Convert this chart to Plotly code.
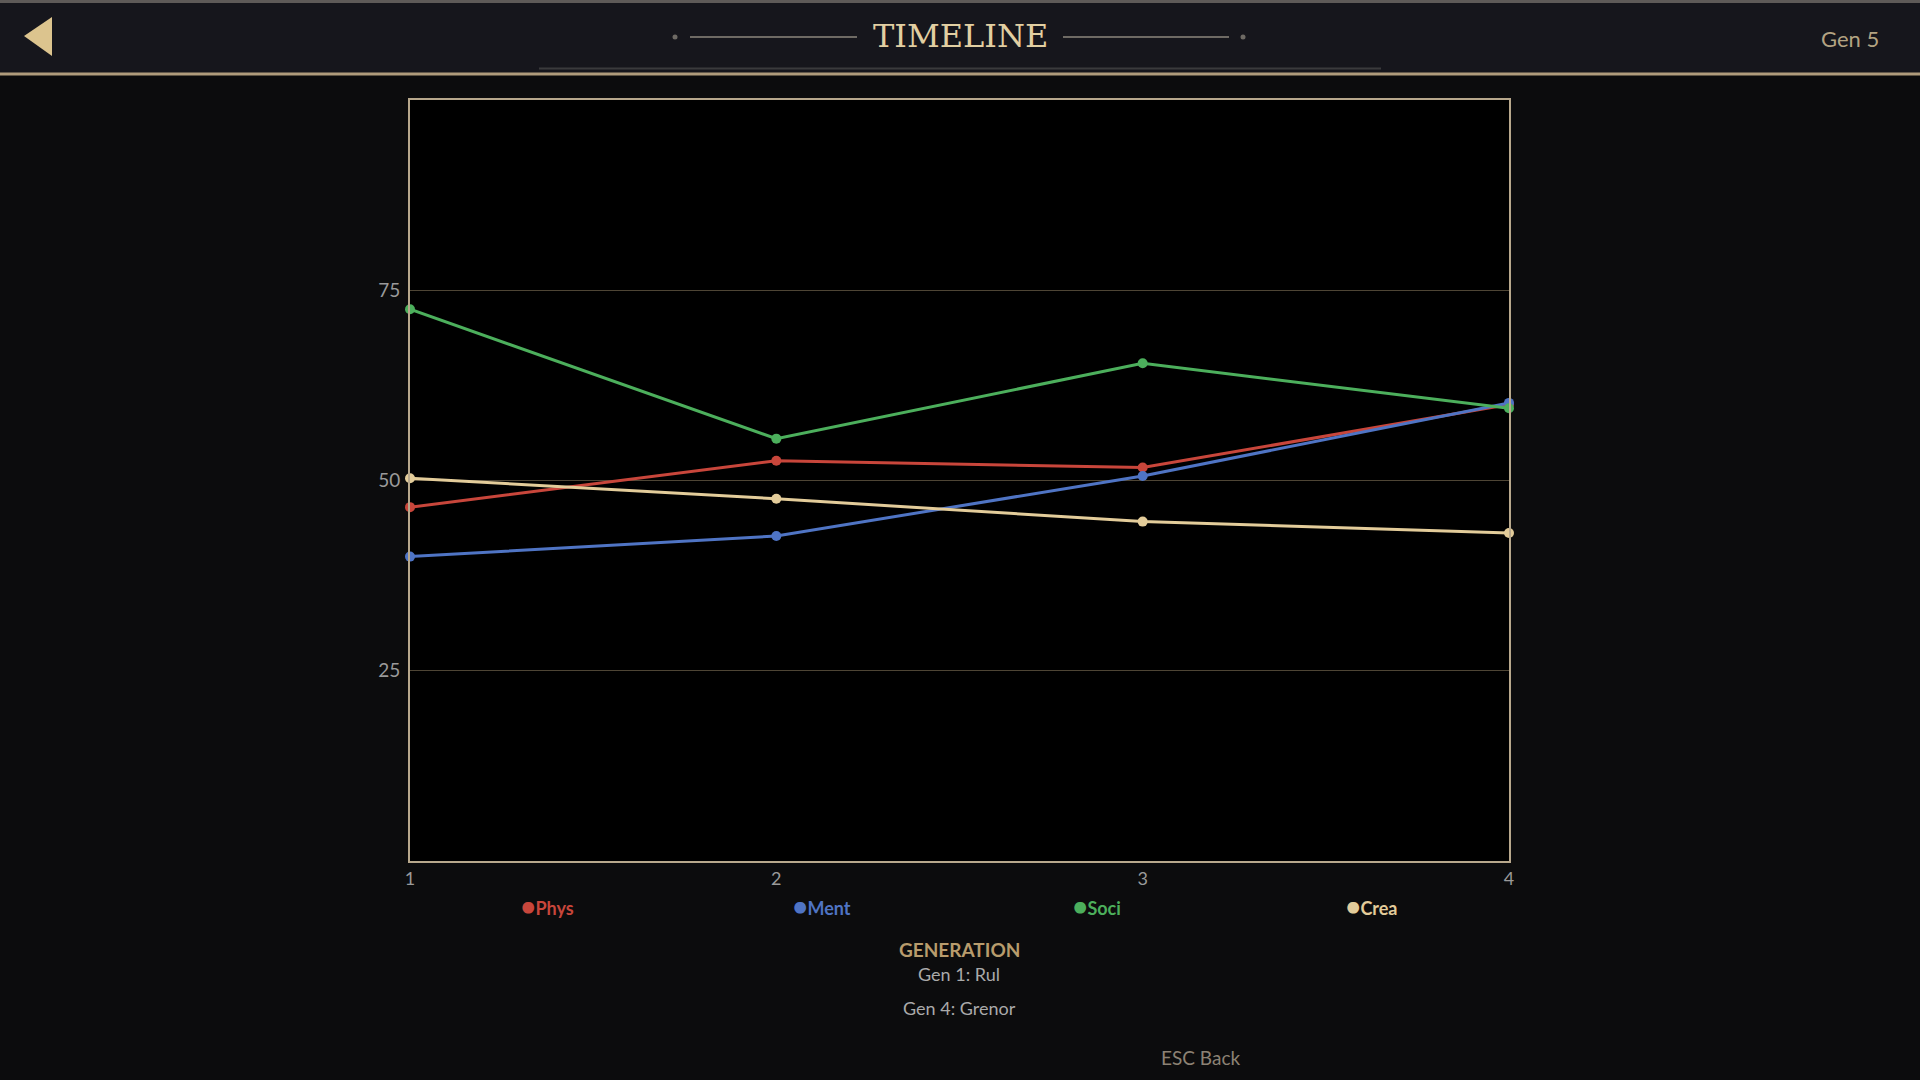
import plotly.graph_objects as go

generations = [1, 2, 3, 4]
series_names = ["Phys", "Ment", "Soci", "Crea"]
phys = [46.5, 52.6, 51.7, 60.0]
ment = [40.0, 42.7, 50.6, 60.2]
soci = [72.5, 55.5, 65.4, 59.5]
crea = [50.3, 47.6, 44.6, 43.1]
colors = ["#c8463b", "#4f74c4", "#4caf5c", "#e3cc9a"]
y_ticks = [25, 50, 75]
notes = ["Gen 1: Rul", "Gen 4: Grenor"]

FONT = "Lato"
W, H = 1920, 1080
L, R, T, B = 410, 411, 100, 219

fig = go.Figure()
for name, vals, col in zip(series_names, [phys, ment, soci, crea], colors):
    fig.add_trace(go.Scatter(
        x=generations, y=vals, name=name, mode="lines+markers",
        line=dict(color=col, width=3), marker=dict(color=col, size=10),
        cliponaxis=False, showlegend=False))

fig.update_layout(
    width=W, height=H,
    margin=dict(l=L, r=R, t=T, b=B),
    paper_bgcolor="#0c0c0d", plot_bgcolor="#000000",
    font=dict(family=FONT, color="#9a9a9a", size=18),
    xaxis=dict(range=[1, 4], tickvals=generations, ticktext=[str(g) for g in generations],
               showgrid=False, zeroline=False, showline=True, mirror=True,
               linecolor="#b8a88c", linewidth=2, ticks="", ticklabelstandoff=0,
               tickfont=dict(size=18, color="#9a9a9a", family=FONT)),
    yaxis=dict(range=[0, 100], tickvals=y_ticks, showgrid=True, gridcolor="#4e4535",
               gridwidth=1, zeroline=False, showline=True, mirror=True,
               linecolor="#b8a88c", linewidth=2, ticks="", ticklabelstandoff=4,
               tickfont=dict(size=19, color="#9a9a9a", family=FONT)),
    hovermode=False,
)

def px_x(x):
    return (x - L) / (W - L - R)
def px_y(y):
    return 1 - (y - T) / (H - T - B)

shapes = []
shapes.append(dict(type="rect", xref="paper", yref="paper", x0=px_x(0), x1=px_x(W),
                   y0=px_y(74), y1=px_y(0), fillcolor="#16161c", line_width=0, layer="below"))
shapes.append(dict(type="line", xref="paper", yref="paper", x0=px_x(0), x1=px_x(W),
                   y0=px_y(1.5), y1=px_y(1.5), line=dict(color="#5e5a58", width=3)))
shapes.append(dict(type="line", xref="paper", yref="paper", x0=px_x(0), x1=px_x(W),
                   y0=px_y(74), y1=px_y(74), line=dict(color="#b09c7c", width=3)))
shapes.append(dict(type="line", xref="paper", yref="paper", x0=px_x(539), x1=px_x(1381),
                   y0=px_y(68.5), y1=px_y(68.5), line=dict(color="#3a3a3c", width=2)))
shapes.append(dict(type="line", xref="paper", yref="paper", x0=px_x(690), x1=px_x(857),
                   y0=px_y(37), y1=px_y(37), line=dict(color="#6e6a64", width=2)))
shapes.append(dict(type="line", xref="paper", yref="paper", x0=px_x(1063), x1=px_x(1229),
                   y0=px_y(37), y1=px_y(37), line=dict(color="#6e6a64", width=2)))
for cx in (675, 1243):
    shapes.append(dict(type="circle", xref="paper", yref="paper", x0=px_x(cx - 2.5), x1=px_x(cx + 2.5),
                       y0=px_y(39.5), y1=px_y(34.5), fillcolor="#6e6a64", line_width=0))
path = "M {} {} L {} {} L {} {} Z".format(px_x(52), px_y(17), px_x(24), px_y(36), px_x(52), px_y(56))
shapes.append(dict(type="path", xref="paper", yref="paper", path=path, fillcolor="#dcc48e", line_width=0))
fig.update_layout(shapes=shapes)

ann = []
ann.append(dict(text="TIMELINE", x=px_x(960), y=px_y(36), xref="paper", yref="paper", showarrow=False,
                xanchor="center", yanchor="middle",
                font=dict(family="DejaVu Serif", size=32, color="#e2cfa2")))
ann.append(dict(text="Gen 5", x=px_x(1881), y=px_y(38), xref="paper", yref="paper", showarrow=False,
                xanchor="right", yanchor="middle", font=dict(family=FONT, size=22, color="#b3a382")))
for i, (name, col) in enumerate(zip(series_names, colors)):
    ann.append(dict(text="<span style='font-size:24px'>●</span><b>" + name + "</b>",
                    x=0.125 + 0.25 * i, y=px_y(905), xref="paper", yref="paper",
                    showarrow=False, xanchor="center", yanchor="middle",
                    font=dict(family=FONT, size=18, color=col)))
ann.append(dict(text="<b>GENERATION</b>", x=px_x(959), y=px_y(949), xref="paper", yref="paper",
                showarrow=False, xanchor="center", yanchor="middle",
                font=dict(family=FONT, size=19, color="#b89c6c")))
for note, yy in zip(notes, [973.5, 1008]):
    ann.append(dict(text=note, x=px_x(959), y=px_y(yy), xref="paper", yref="paper",
                    showarrow=False, xanchor="center", yanchor="middle",
                    font=dict(family=FONT, size=18, color="#aaaaaa")))
ann.append(dict(text="ESC Back", x=px_x(1200), y=px_y(1057), xref="paper", yref="paper",
                showarrow=False, xanchor="center", yanchor="middle",
                font=dict(family=FONT, size=19, color="#8c8274")))
fig.update_layout(annotations=ann)

fig.write_html("out.html", config={"displayModeBar": False},
               post_script="document.body.style.margin='0';document.body.style.background='#0c0c0d';document.body.style.overflow='hidden';")
